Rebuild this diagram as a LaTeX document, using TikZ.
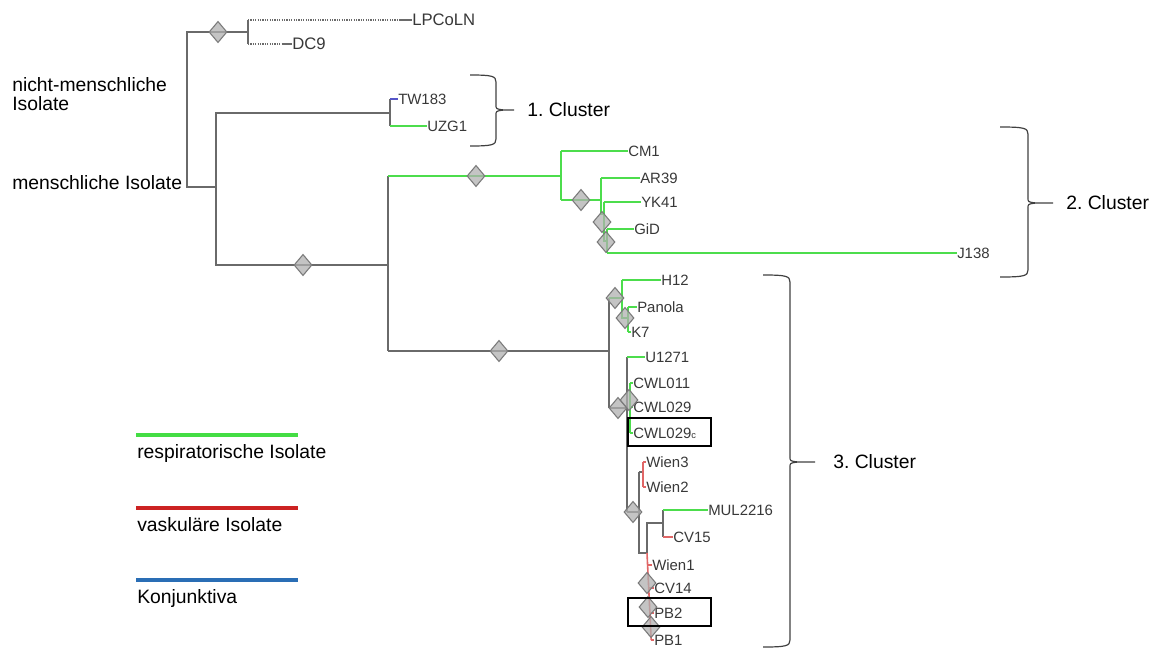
\documentclass[tikz,border=0pt]{standalone}
\usepackage{fontspec}
\setmainfont{Liberation Sans}
\usetikzlibrary{shapes.geometric}
\frenchspacing
\definecolor{treegray}{HTML}{6A6A6A}
\definecolor{resp}{HTML}{4CDD4C}
\definecolor{vasc}{HTML}{E06666}
\definecolor{legred}{HTML}{CC2222}
\definecolor{legblue}{HTML}{2A6EB5}
\definecolor{leggreen}{HTML}{44DD44}
\definecolor{tw}{HTML}{5555C8}
\definecolor{labgray}{HTML}{383838}
\definecolor{dfill}{HTML}{B0B0B0}
\definecolor{ddraw}{HTML}{7A7A7A}
\newcommand{\clbrace}[6]{%
 \draw[brace] (#1,#3) .. controls ({#2-4},#3) and (#2,{#3+1}) .. (#2,{#3+7}) -- (#2,{#4-5}) .. controls (#2,{#4-1}) .. ({#2+8},#4) -- (#6,#4)
 ({#2+8},#4) .. controls (#2,{#4+1}) .. (#2,{#4+5}) -- (#2,{#5-7}) .. controls (#2,{#5-1}) and ({#2-4},#5) .. (#1,#5);}
\begin{document}
\begin{tikzpicture}[x=0.75pt,y=-0.75pt,
 br/.style={draw=treegray,line width=1.3pt},
 gr/.style={draw=resp,line width=1.5pt},
 rd/.style={draw=vasc,line width=1.2pt},
 dotbr/.style={draw=treegray,line width=0.9pt,dash pattern=on 0.9pt off 0.9pt},
 leaf/.style={anchor=west,inner sep=0pt,text=labgray,font=\fontsize{11.2}{13}\selectfont},
 bigleaf/.style={leaf,font=\fontsize{12.5}{14}\selectfont},
 note/.style={anchor=west,inner sep=0pt,font=\fontsize{14.5}{14.3}\selectfont,align=left},
 dmd/.style={diamond,draw=ddraw,fill=dfill,fill opacity=0.75,line width=0.8pt,minimum width=13.5pt,minimum height=16pt,inner sep=0pt},
 brace/.style={draw=black!75,line width=0.9pt},
 hlbox/.style={draw=black,line width=1.3pt,minimum width=62pt,minimum height=21pt,inner sep=0pt},
 legline/.style={line width=2.3pt}
]
\useasboundingbox (0,0) rectangle (1157,650);

% ---------- leaf labels ----------
\node[bigleaf] (LPCoLN) at (412,20) {LPCoLN};
\node[bigleaf] (DC9) at (292,44) {DC9};
\node[leaf] (TW183) at (398,99) {TW183};
\node[leaf] (UZG1) at (427,126) {UZG1};
\node[leaf] (CM1) at (628,151) {CM1};
\node[leaf] (AR39) at (640,178) {AR39};
\node[leaf] (YK41) at (641,202) {YK41};
\node[leaf] (GiD) at (634,229) {GiD};
\node[leaf] (J138) at (957,253) {J138};
\node[leaf] (H12) at (661,280) {H12};
\node[leaf] (Panola) at (637,307) {Panola};
\node[leaf] (K7) at (631,332) {K7};
\node[leaf] (U1271) at (645,357) {U1271};
\node[leaf] (CWL011) at (633,383) {CWL011};
\node[leaf] (CWL029) at (633,407) {CWL029};
\node[leaf] (CWL029c) at (633,433) {CWL029{\fontsize{7}{8}\selectfont c}};
\node[leaf] (Wien3) at (646,462) {Wien3};
\node[leaf] (Wien2) at (646,487) {Wien2};
\node[leaf] (MUL2216) at (708,510) {MUL2216};
\node[leaf] (CV15) at (673,537) {CV15};
\node[leaf] (Wien1) at (652,565) {Wien1};
\node[leaf] (CV14) at (654,588) {CV14};
\node[leaf] (PB2) at (654,613) {PB2};
\node[leaf] (PB1) at (654,640) {PB1};

% ---------- internal coordinates ----------
\coordinate (root) at (187,110);
\coordinate (nA) at (248,32);
\coordinate (a1) at (248,20);
\coordinate (a2) at (248,44);
\coordinate (dl1) at (400,20);
\coordinate (dl2) at (283,44);
\coordinate (nH) at (216,187);
\coordinate (nB) at (390,113);
\coordinate (b1) at (390,99);
\coordinate (b2) at (390,126);
\coordinate (nC) at (388,265);
\coordinate (c1) at (388,176);
\coordinate (c2) at (388,351);
\coordinate (nD) at (561,176);
\coordinate (d1) at (561,151);
\coordinate (d2) at (561,200);
\coordinate (e0) at (601,200);
\coordinate (e1) at (601,178);
\coordinate (e2) at (601,214);
\coordinate (e3) at (604,214);
\coordinate (e4) at (604,202);
\coordinate (e5) at (604,241);
\coordinate (e6) at (607,241);
\coordinate (e7) at (607,229);
\coordinate (e8) at (607,253);
\coordinate (j138l) at (955,253);
\coordinate (nE) at (609,351);
\coordinate (f1) at (609,298);
\coordinate (f2) at (609,408);
\coordinate (g0) at (622,298);
\coordinate (g1) at (622,280);
\coordinate (g2) at (622,318);
\coordinate (g3) at (628,318);
\coordinate (g4) at (628,307);
\coordinate (g5) at (628,332);
\coordinate (h0) at (627,408);
\coordinate (h1) at (627,357);
\coordinate (h2) at (627,512);
\coordinate (k1) at (630,383);
\coordinate (k2) at (630,407);
\coordinate (k3) at (630,433);
\coordinate (i0) at (639,512);
\coordinate (i1) at (639,472);
\coordinate (i2) at (639,553);
\coordinate (w0) at (643,472);
\coordinate (w1) at (643,462);
\coordinate (w2) at (643,487);
\coordinate (j0) at (647,553);
\coordinate (j1) at (647,523);
\coordinate (m0) at (663,523);
\coordinate (m1) at (663,510);
\coordinate (m2) at (663,537);
\coordinate (r1) at (647.5,565);
\coordinate (r2) at (648.7,588);
\coordinate (r3) at (649.9,613);
\coordinate (r4) at (651.2,640);

% ---------- branches ----------
\draw[br] (nA) -| (root) |- (nH);
\draw[br] (a1) -- (a2);
\draw[dotbr] (a1) -- (dl1);
\draw[br] (dl1) -- (LPCoLN.west);
\draw[dotbr] (a2) -- (dl2);
\draw[br] (dl2) -- (DC9.west);

\draw[br] (nB) -| (nH) |- (nC);
\draw[br] (b1) -- (b2);
\draw[draw=tw,line width=1.2pt] (b1) -- (TW183.west);
\draw[gr] (b2) -- (UZG1.west);

\draw[br] (c1) -- (c2);
\draw[gr] (c1) -- (nD);
\draw[br] (c2) -- (nE);

% cluster 2
\draw[gr] (d1) -- (d2);
\draw[gr] (d1) -- (CM1.west);
\draw[gr] (d2) -- (e0);
\draw[gr] (e1) -- (e2) -- (e3);
\draw[gr] (e1) -- (AR39.west);
\draw[gr] (e4) -- (e5) -- (e6);
\draw[gr] (e4) -- (YK41.west);
\draw[gr] (e7) -- (e8);
\draw[gr] (e7) -- (GiD.west);
\draw[gr] (e8) -- (j138l);
\draw[gr] (j138l) -- (J138.west);

% cluster 3
\draw[br] (f1) -- (f2);
\draw[gr] (f1) -- (g0);
\draw[gr] (g1) -- (g2) -- (g3);
\draw[gr] (g1) -- (H12.west);
\draw[gr] (g4) -- (g5);
\draw[gr] (g4) -- (Panola.west);
\draw[gr] (g5) -- (K7.west);
\draw[br] (f2) -- (h0);
\draw[br] (h1) -- (h2);
\draw[gr] (h1) -- (U1271.west);
\draw[gr] (k1) -- (k3);
\draw[gr] (k1) -- (CWL011.west);
\draw[gr] (k2) -- (CWL029.west);
\draw[gr] (k3) -- (CWL029c.west);
\draw[br] (h2) -- (i0);
\draw[br] (i1) -- (i2) -- (j0) -- (j1) -- (m0);
\draw[br] (i1) -- (w0);
\draw[rd] (w1) -- (w2);
\draw[rd] (w1) -- (Wien3.west);
\draw[rd] (w2) -- (Wien2.west);
\draw[br] (m1) -- (m2);
\draw[gr] (m1) -- (MUL2216.west);
\draw[rd] (m2) -- (CV15.west);
\draw[rd] (j0) -- (r4);
\draw[rd] (r1) -- (Wien1.west);
\draw[rd] (r2) -- (CV14.west);
\draw[rd] (r3) -- (PB2.west);
\draw[rd] (r4) -- (PB1.west);

% ---------- diamonds ----------
\node[dmd] (dm1) at (218,32) {};
\node[dmd] (dm2) at (303,265) {};
\node[dmd] (dm3) at (476,176) {};
\node[dmd] (dm4) at (499,351) {};
\node[dmd] (dm5) at (581,200) {};
\node[dmd] (dm6) at (602,222) {};
\node[dmd] (dm7) at (606,242) {};
\node[dmd] (dm8) at (615,298) {};
\node[dmd] (dm9) at (625,318) {};
\node[dmd] (dm10) at (618,408) {};
\node[dmd] (dm11) at (629,400) {};
\node[dmd] (dm12) at (633,512) {};
\node[dmd] (dm13) at (647,583) {};
\node[dmd] (dm14) at (648,607) {};
\node[dmd] (dm15) at (651,627) {};

% ---------- highlight boxes ----------
\node[hlbox] (box1) at (669.5,432) {};
\node[hlbox] (box2) at (669.5,612) {};

% ---------- braces and cluster labels ----------
\clbrace{470}{496}{75}{110}{146}{514}
\clbrace{1000}{1028}{127}{203}{277}{1053}
\clbrace{763}{790}{275}{462}{647}{815}
\node[note] (cl1) at (527,110) {1. Cluster};
\node[note] (cl2) at (1066,203) {2. Cluster};
\node[note] (cl3) at (833,462) {3. Cluster};

% ---------- side notes ----------
\node[note] (nonhum) at (12,94.5) {nicht-menschliche\\Isolate};
\node[note] (hum) at (12,183) {menschliche Isolate};

% ---------- legend ----------
\coordinate (lg1a) at (136,435);
\coordinate (lg1b) at (298,435);
\coordinate (lg2a) at (136,508);
\coordinate (lg2b) at (298,508);
\coordinate (lg3a) at (136,580);
\coordinate (lg3b) at (298,580);
\draw[legline,draw=leggreen] (lg1a) -- (lg1b);
\draw[legline,draw=legred] (lg2a) -- (lg2b);
\draw[legline,draw=legblue] (lg3a) -- (lg3b);
\node[note] (lt1) at (137,453) {respiratorische Isolate};
\node[note] (lt2) at (137,525) {vaskuläre Isolate};
\node[note] (lt3) at (137,598) {Konjunktiva};
\end{tikzpicture}
\end{document}
